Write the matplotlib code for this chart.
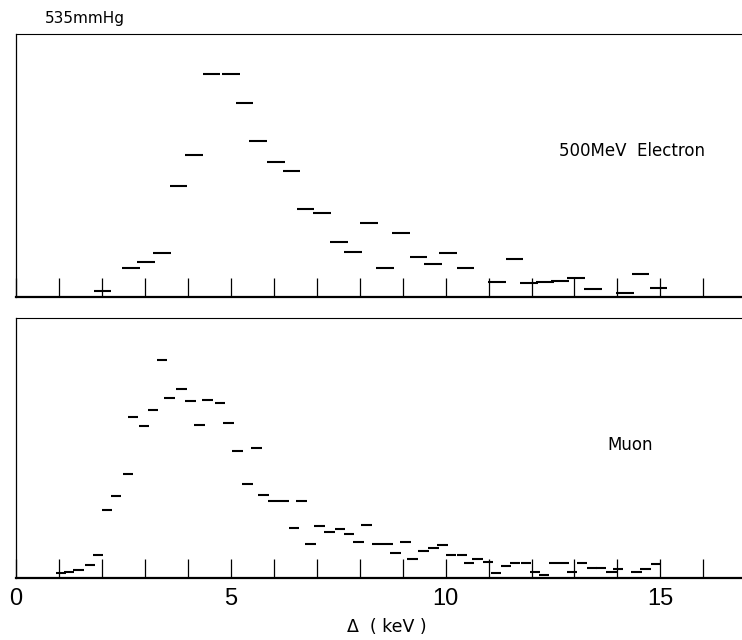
import matplotlib
matplotlib.use("Agg")
import matplotlib.pyplot as plt
from matplotlib.ticker import FixedLocator, NullFormatter

# ---- data (Δ in keV, counts in arbitrary units) ----
electron_x = [2.01, 2.68, 3.02, 3.39, 3.78, 4.14, 4.55, 5.00, 5.32, 5.63,
              6.05, 6.41, 6.74, 7.12, 7.52, 7.84, 8.21, 8.59, 8.96, 9.37,
              9.70, 10.06, 10.46, 11.20, 11.60, 11.94, 12.31, 12.66, 13.04,
              13.43, 14.18, 14.54, 14.96]
electron_y = [6, 29, 35, 44, 111, 142, 223, 223, 194, 156,
              135, 126, 88, 84, 55, 45, 74, 29, 64, 40,
              33, 44, 29, 15, 38, 14, 15, 16, 19,
              8, 4, 23, 9]

muon_x = [1.05, 1.23, 1.45, 1.72, 1.91, 2.12, 2.33, 2.61, 2.72, 2.98,
          3.19, 3.40, 3.57, 3.85, 4.06, 4.27, 4.46, 4.75, 4.95, 5.16,
          5.39, 5.60, 5.76, 5.99, 6.24, 6.47, 6.65, 6.85, 7.06, 7.30,
          7.54, 7.75, 7.97, 8.16, 8.40, 8.65, 8.83, 9.07, 9.23, 9.49,
          9.72, 9.93, 10.13, 10.38, 10.55, 10.74, 10.99, 11.17, 11.41, 11.62,
          11.87, 12.08, 12.29, 12.52, 12.76, 12.94, 13.18, 13.41, 13.62, 13.86,
          14.01, 14.45, 14.65, 14.90]
muon_y = [5, 6, 8, 13, 23, 68, 82, 104, 161, 152,
          168, 218, 180, 189, 177, 153, 178, 175, 155, 127,
          94, 130, 83, 77, 77, 50, 77, 34, 52, 46,
          49, 44, 36, 53, 34, 34, 25, 36, 19, 27,
          30, 33, 23, 23, 15, 19, 16, 5, 12, 15,
          15, 6, 3, 15, 15, 6, 15, 10, 10, 6,
          9, 6, 9, 14]

electron_width = 0.41
muon_width = 0.245

major_ticks = [0, 5, 10, 15]
minor_ticks = [1, 2, 3, 4, 6, 7, 8, 9, 11, 12, 13, 14, 16]
tick_labels = ["0", "5", "10", "15"]

panel_label_top = "500MeV  Electron"
panel_label_bottom = "Muon"
pressure_label = "535mmHg"
x_label = "Δ  ( keV )"

# ---- figure ----
W, H = 742, 640
fig = plt.figure(figsize=(W / 100, H / 100), dpi=100)
plt.rcParams['font.family'] = ['DejaVu Sans']

left = 16.1 / W
xmax = (W - 16.1) / 42.95

ax1 = fig.add_axes([left, 1 - 297 / H, 1 - left, (297 - 34) / H])
ax2 = fig.add_axes([left, 1 - 578 / H, 1 - left, (578 - 318) / H])


def style(ax, ytop, labels):
    ax.set_xlim(0, xmax)
    ax.set_ylim(0, ytop)
    ax.spines['right'].set_visible(False)
    ax.spines['top'].set_linewidth(0.8)
    ax.spines['left'].set_linewidth(0.9)
    ax.spines['bottom'].set_linewidth(1.6)
    ax.set_yticks([])
    ax.xaxis.set_major_locator(FixedLocator(major_ticks))
    ax.xaxis.set_minor_locator(FixedLocator(minor_ticks))
    ax.tick_params(axis='x', which='both', direction='in', length=14,
                   width=0.9, color='black')
    if labels:
        ax.set_xticklabels(tick_labels, fontfamily='Liberation Sans')
        ax.tick_params(axis='x', which='major', labelsize=17, pad=7)
        ax.xaxis.set_minor_formatter(NullFormatter())
    else:
        ax.xaxis.set_major_formatter(NullFormatter())
        ax.xaxis.set_minor_formatter(NullFormatter())


style(ax1, 263, False)
style(ax2, 260, True)

ax1.hlines(electron_y,
           [x - electron_width / 2 for x in electron_x],
           [x + electron_width / 2 for x in electron_x],
           colors='black', linewidth=1.5)
ax2.hlines(muon_y,
           [x - muon_width / 2 for x in muon_x],
           [x + muon_width / 2 for x in muon_x],
           colors='black', linewidth=1.5)

ax1.text(12.63, 146, panel_label_top, fontsize=12, ha='left', va='center')
ax2.text(13.77, 133, panel_label_bottom, fontsize=12, ha='left', va='center')

fig.text(45 / W, 1 - 18 / H, pressure_label, fontsize=11, ha='left',
         va='center')
fig.text(387 / W, 1 - 627 / H, x_label, fontsize=12.5, ha='center',
         va='center')

fig.savefig("out.png", dpi=100)
